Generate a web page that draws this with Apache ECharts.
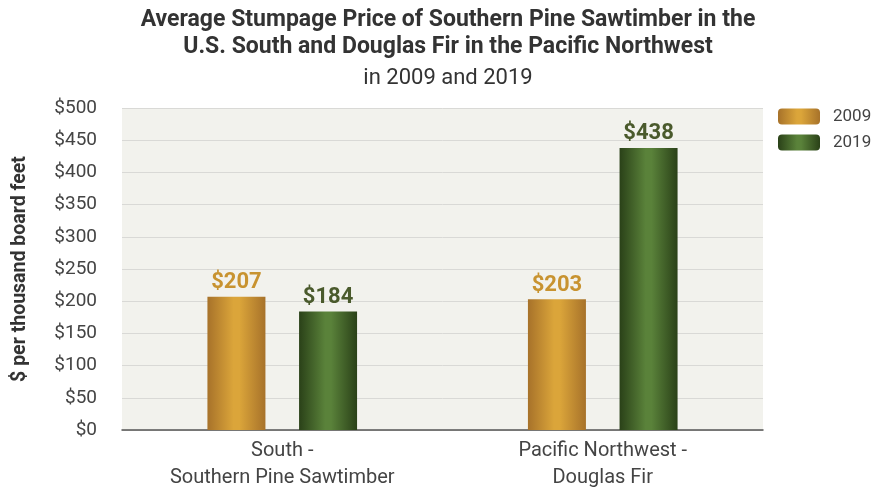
<!DOCTYPE html>
<html>
<head>
<meta charset="utf-8">
<script src="https://cdn.jsdelivr.net/npm/echarts@6/dist/echarts.min.js"></script>
<style>
  html, body { margin: 0; padding: 0; background: #ffffff; }
  #chart { width: 879px; height: 491px; }
</style>
</head>
<body>
<div id="chart"></div>
<script>
// Average stumpage prices, $ per thousand board feet
const categories = ['South -\nSouthern Pine Sawtimber', 'Pacific Northwest -\nDouglas Fir'];
const years = ['2009', '2019'];
const prices2009 = [207, 203];
const prices2019 = [184, 438];

const FONT = 'Roboto, "Noto Sans", sans-serif';

// Cylinder-like horizontal shading for each year's bars
function shade(edge, mid) {
  return new echarts.graphic.LinearGradient(0, 0, 1, 0, [
    { offset: 0, color: edge },
    { offset: 0.45, color: mid },
    { offset: 0.55, color: mid },
    { offset: 1, color: edge }
  ]);
}
const gold = shade('#a7722a', '#dba53a');
const green = shade('#2a4118', '#5a823a');

const chart = echarts.init(document.getElementById('chart'));
chart.setOption({
  backgroundColor: '#ffffff',
  title: [
    {
      text: 'Average Stumpage Price of Southern Pine Sawtimber in the\nU.S. South and Douglas Fir in the Pacific Northwest',
      left: 443, top: 2, textAlign: 'center',
      textStyle: { fontFamily: FONT, fontSize: 23, fontWeight: 'bold', color: '#333333', lineHeight: 27 }
    },
    {
      text: 'in 2009 and 2019',
      left: 443, top: 62, textAlign: 'center',
      textStyle: { fontFamily: FONT, fontSize: 22, fontWeight: 'normal', color: '#333333' }
    }
  ],
  legend: {
    orient: 'vertical',
    left: 773, top: 103,
    itemWidth: 42, itemHeight: 16, itemGap: 9,
    textStyle: { fontFamily: FONT, fontSize: 17, color: '#444444', padding: [0, 0, 0, 8] },
    data: [
      { name: '2009', itemStyle: { color: gold } },
      { name: '2019', itemStyle: { color: green } }
    ]
  },
  grid: {
    left: 122, right: 116, top: 108, bottom: 57,
    show: true, backgroundColor: '#f2f2ed', borderWidth: 0
  },
  xAxis: {
    type: 'category',
    data: categories,
    axisLine: { lineStyle: { color: '#555555', width: 1.5 } },
    axisTick: { show: false },
    axisLabel: { fontFamily: FONT, fontSize: 20, color: '#444444', lineHeight: 27, margin: 7 }
  },
  yAxis: {
    type: 'value',
    min: 0, max: 500, interval: 50,
    name: '$ per thousand board feet',
    nameLocation: 'middle',
    nameGap: 92,
    nameTextStyle: { fontFamily: FONT, fontSize: 19.5, fontWeight: 'bold', color: '#333333' },
    axisLine: { show: false },
    axisTick: { show: false },
    splitLine: { lineStyle: { color: '#d9d9d6', width: 1 } },
    axisLabel: {
      fontFamily: FONT, fontSize: 19, color: '#444444', margin: 25,
      formatter: v => '$' + v
    }
  },
  series: [
    {
      name: years[0], type: 'bar', data: prices2009,
      barWidth: 58, barGap: '58%',
      itemStyle: { color: gold },
      label: {
        show: true, position: 'top', distance: 3,
        formatter: p => '$' + p.value,
        fontFamily: FONT, fontSize: 22, fontWeight: 'bold', color: '#c89330'
      }
    },
    {
      name: years[1], type: 'bar', data: prices2019,
      barWidth: 58,
      itemStyle: { color: green },
      label: {
        show: true, position: 'top', distance: 3,
        formatter: p => '$' + p.value,
        fontFamily: FONT, fontSize: 22, fontWeight: 'bold', color: '#4a5a2c'
      }
    }
  ]
});
</script>
</body>
</html>
